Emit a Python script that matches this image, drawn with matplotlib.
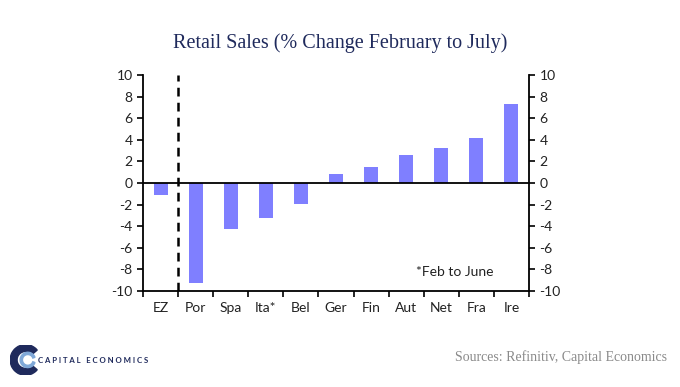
import matplotlib.pyplot as plt
import matplotlib.patches as mpatches
import numpy as np

# Data
countries = ["EZ", "Por", "Spa", "Ita*", "Bel", "Ger", "Fin", "Aut", "Net", "Fra", "Ire"]
change = [-1.1, -9.3, -4.3, -3.2, -1.9, 0.85, 1.5, 2.6, 3.25, 4.2, 7.3]
yticks = [-10, -8, -6, -4, -2, 0, 2, 4, 6, 8, 10]

navy = "#1f2a5c"
bar_col = "#7f7fff"
sans = ["Lato", "DejaVu Sans"]
serif = ["Liberation Serif", "DejaVu Serif"]

fig = plt.figure(figsize=(6.8, 3.87), dpi=100)
ax = fig.add_axes([0.2103, 0.2481, 0.5676, 0.5581])

x = np.arange(len(countries))
ax.bar(x, change, width=0.4, color=bar_col, zorder=2)
ax.axhline(0, color="black", lw=1.3, zorder=3)
ax.axvline(0.5, color="black", lw=1.8, ls=(0, (3.5, 2.5)), zorder=3)

ax.set_xlim(-0.5, len(countries) - 0.5)
ax.set_ylim(-10, 10)
ax.set_yticks(yticks)
ax.set_yticklabels([str(v) for v in yticks], fontfamily=sans, fontsize=10,
                   color="#222222")
ax.tick_params(axis="y", direction="out", length=4, width=1.2,
               left=True, right=True, labelleft=True, labelright=True)

# x ticks sit at the category boundaries, labels at the centres
ax.set_xticks(np.arange(len(countries) + 1) - 0.5)
ax.set_xticklabels([])
ax.set_xticks(x, minor=True)
ax.set_xticklabels(countries, minor=True, fontfamily=sans, fontsize=10,
                   color="#222222")
ax.tick_params(axis="x", which="major", direction="out", length=4, width=1.2)
ax.tick_params(axis="x", which="minor", length=0, pad=8)

for s in ["left", "right", "bottom"]:
    ax.spines[s].set_linewidth(1.3)
ax.spines["top"].set_visible(False)

ax.text(0.808, 0.088, "*Feb to June", transform=ax.transAxes, ha="center",
        va="center", fontfamily=sans, fontsize=10, color="#222222")

fig.text(0.5, 0.888, "Retail Sales (% Change February to July)", ha="center",
         va="center", fontfamily=serif, fontsize=14.5, color=navy)

fig.text(0.981, 0.077, "Sources: Refinitiv, Capital Economics", ha="right",
         va="center", fontfamily=serif, fontsize=10, color="#8a8a8a")

# rough logo
logo = fig.add_axes([0.015, 0.03, 0.045, 0.08])
logo.set_xlim(-1, 1)
logo.set_ylim(-1, 1)
logo.set_aspect("equal")
logo.axis("off")
logo.add_patch(mpatches.Wedge((0, 0), 1.0, 40, 320, width=0.45, color=navy))
logo.add_patch(mpatches.Wedge((0.15, 0), 0.5, 20, 340, width=0.15, color="#7fa8d8"))
fig.text(0.056, 0.068, "C A P I T A L   E C O N O M I C S", ha="left",
         va="center", fontfamily=sans, fontsize=5.6, color=navy,
         fontweight="bold")

fig.savefig("out.png", dpi=100)
